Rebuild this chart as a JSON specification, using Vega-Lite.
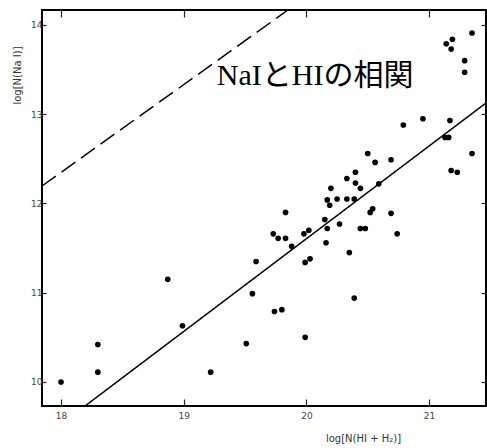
{
  "$schema": "https://vega.github.io/schema/vega-lite/v6.json",
  "width": 444,
  "height": 396,
  "autosize": {"type": "none"},
  "padding": {"left": 42, "top": 10, "right": 1, "bottom": 42},
  "background": "white",
  "config": {
    "view": {"stroke": "black", "strokeWidth": 2},
    "axis": {
      "domain": false,
      "grid": false,
      "ticks": true,
      "tickColor": "#222",
      "tickWidth": 1.2,
      "labelFont": "DejaVu Sans",
      "labelFontSize": 9,
      "labelColor": "#444",
      "titleFont": "DejaVu Sans",
      "titleFontWeight": "normal",
      "titleColor": "#333"
    }
  },
  "datasets": {
    "points": [
      {"logH": 18.00, "logNa": 10.00},
      {"logH": 18.30, "logNa": 10.42},
      {"logH": 18.30, "logNa": 10.11},
      {"logH": 18.87, "logNa": 11.15},
      {"logH": 18.99, "logNa": 10.63},
      {"logH": 19.22, "logNa": 10.11},
      {"logH": 19.51, "logNa": 10.43},
      {"logH": 19.59, "logNa": 11.35},
      {"logH": 19.56, "logNa": 10.99},
      {"logH": 19.74, "logNa": 10.79},
      {"logH": 19.80, "logNa": 10.81},
      {"logH": 19.99, "logNa": 10.50},
      {"logH": 20.39, "logNa": 10.94},
      {"logH": 20.35, "logNa": 11.45},
      {"logH": 20.16, "logNa": 11.56},
      {"logH": 19.99, "logNa": 11.34},
      {"logH": 20.03, "logNa": 11.38},
      {"logH": 19.73, "logNa": 11.66},
      {"logH": 19.77, "logNa": 11.61},
      {"logH": 19.83, "logNa": 11.61},
      {"logH": 19.88, "logNa": 11.52},
      {"logH": 19.98, "logNa": 11.66},
      {"logH": 20.02, "logNa": 11.70},
      {"logH": 20.17, "logNa": 11.72},
      {"logH": 20.27, "logNa": 11.77},
      {"logH": 20.44, "logNa": 11.72},
      {"logH": 20.48, "logNa": 11.72},
      {"logH": 20.74, "logNa": 11.66},
      {"logH": 19.83, "logNa": 11.90},
      {"logH": 20.15, "logNa": 11.82},
      {"logH": 20.17, "logNa": 12.04},
      {"logH": 20.19, "logNa": 11.98},
      {"logH": 20.20, "logNa": 12.17},
      {"logH": 20.25, "logNa": 12.05},
      {"logH": 20.33, "logNa": 12.28},
      {"logH": 20.33, "logNa": 12.05},
      {"logH": 20.40, "logNa": 12.35},
      {"logH": 20.40, "logNa": 12.23},
      {"logH": 20.44, "logNa": 12.17},
      {"logH": 20.39, "logNa": 12.05},
      {"logH": 20.50, "logNa": 12.56},
      {"logH": 20.56, "logNa": 12.46},
      {"logH": 20.69, "logNa": 12.49},
      {"logH": 20.59, "logNa": 12.22},
      {"logH": 20.52, "logNa": 11.90},
      {"logH": 20.54, "logNa": 11.94},
      {"logH": 20.69, "logNa": 11.89},
      {"logH": 20.79, "logNa": 12.88},
      {"logH": 20.95, "logNa": 12.95},
      {"logH": 21.17, "logNa": 12.93},
      {"logH": 21.13, "logNa": 12.74},
      {"logH": 21.16, "logNa": 12.74},
      {"logH": 21.18, "logNa": 12.37},
      {"logH": 21.23, "logNa": 12.35},
      {"logH": 21.35, "logNa": 12.56},
      {"logH": 21.14, "logNa": 13.79},
      {"logH": 21.19, "logNa": 13.84},
      {"logH": 21.18, "logNa": 13.73},
      {"logH": 21.35, "logNa": 13.91},
      {"logH": 21.29, "logNa": 13.60},
      {"logH": 21.29, "logNa": 13.47}
    ],
    "lines": [
      {"series": "fit", "logH": 18.196, "logNa": 9.731},
      {"series": "fit", "logH": 21.464, "logNa": 13.126},
      {"series": "upper", "logH": 17.845, "logNa": 12.196},
      {"series": "upper", "logH": 19.85, "logNa": 14.168}
    ],
    "label": [
      {"text": "NaIとHIの相関", "logH": 19.27, "logNa": 13.328}
    ]
  },
  "layer": [
    {
      "data": {"name": "points"},
      "mark": {"type": "circle", "size": 32, "color": "black", "opacity": 1},
      "encoding": {
        "x": {
          "field": "logH", "type": "quantitative",
          "scale": {"domain": [17.845, 21.464], "nice": false, "zero": false},
          "axis": {
            "orient": "bottom", "values": [18, 19, 20, 21], "tickSize": -7,
            "labelPadding": 12,
            "title": "log[N(HI + H₂)]", "titleFontSize": 10,
            "titleX": 321, "titleY": 32, "titleBaseline": "middle", "titleAnchor": null, "titleAlign": "center"
          }
        },
        "y": {
          "field": "logNa", "type": "quantitative",
          "scale": {"domain": [9.731, 14.168], "nice": false, "zero": false},
          "axis": {
            "orient": "left", "values": [10, 11, 12, 13, 14], "tickSize": -4,
            "labelPadding": 4,
            "title": "log[N(Na I)]", "titleFontSize": 10,
            "titleX": -25, "titleY": 65, "titleAngle": -90, "titleAlign": "center", "titleBaseline": "middle", "titleAnchor": null
          }
        }
      }
    },
    {
      "data": {"name": "lines"},
      "mark": {"type": "line", "color": "black", "strokeWidth": 1.5},
      "encoding": {
        "x": {
          "field": "logH", "type": "quantitative",
          "axis": {"orient": "top", "values": [18, 19, 20, 21], "tickSize": -7, "labels": false, "title": null}
        },
        "y": {
          "field": "logNa", "type": "quantitative",
          "axis": {"orient": "right", "values": [10, 11, 12, 13, 14], "tickSize": -5, "labels": false, "title": null}
        },
        "detail": {"field": "series"},
        "strokeDash": {
          "field": "series", "type": "nominal",
          "scale": {"domain": ["fit", "upper"], "range": [[1, 0], [17, 7]]},
          "legend": null
        }
      }
    },
    {
      "data": {"name": "label"},
      "mark": {"type": "text", "align": "left", "baseline": "alphabetic", "fontSize": 30, "font": "Liberation Serif, Noto Sans CJK JP", "color": "black"},
      "encoding": {
        "x": {"field": "logH", "type": "quantitative", "axis": null},
        "y": {"field": "logNa", "type": "quantitative", "axis": null},
        "text": {"field": "text"}
      }
    }
  ],
  "resolve": {"axis": {"x": "independent", "y": "independent"}}
}
